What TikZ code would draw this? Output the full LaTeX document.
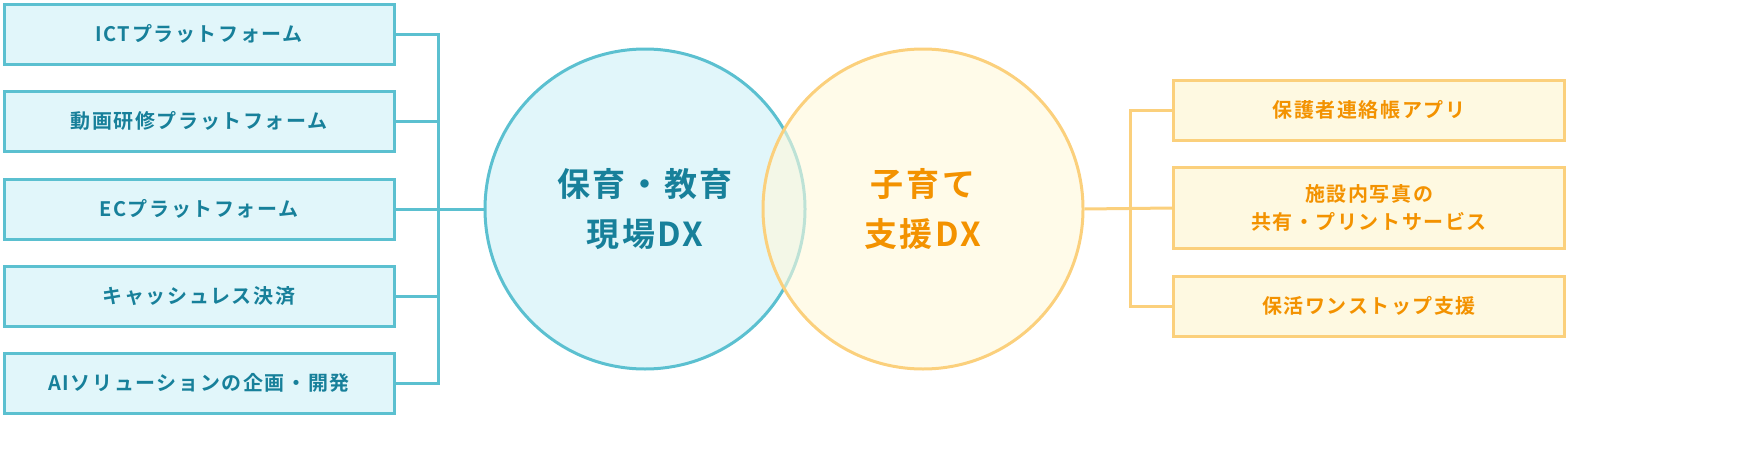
\documentclass[tikz,border=0pt]{standalone}
\usepackage{fontspec}
\setmainfont{Noto Sans CJK JP}[BoldFont={Noto Sans CJK JP Bold},LetterSpace=8]
\definecolor{dxblue}{HTML}{5BC0D0}
\definecolor{dxbluefill}{HTML}{E1F6FA}
\definecolor{dxbluetext}{HTML}{17809A}
\definecolor{kyellow}{HTML}{FBD07C}
\definecolor{kyellowfill}{HTML}{FEF9E1}
\definecolor{korange}{HTML}{F39200}
\tikzset{
  lbox/.style={draw=dxblue,fill=dxbluefill,line width=1.5pt,minimum width=195pt,minimum height=30pt,
    text=dxbluetext,font=\fontsize{10}{12.5}\selectfont\bfseries,align=center},
  rbox/.style={draw=kyellow,fill=kyellowfill,line width=1.5pt,minimum width=195.5pt,minimum height=30pt,
    text=korange,font=\fontsize{10}{14}\selectfont\bfseries,align=center},
  bline/.style={dxblue,line width=1.5pt},
  yline/.style={kyellow,line width=1.5pt}
}
\begin{document}
\begin{tikzpicture}[x=0.5pt,y=-0.5pt]
\useasboundingbox (0,0) rectangle (1760,466);

%circles
\node[circle,draw=dxblue,fill=dxbluefill,line width=1.5pt,minimum size=160pt] (edu) at (645,209) {};
\node[circle,draw=kyellow,fill=kyellow!60!yellow!20,fill opacity=0.6,line width=1.5pt,minimum size=160pt] (kids) at (923,209) {};
\node[text=dxbluetext,font=\fontsize{16.5}{25}\selectfont\bfseries,align=center] at (645,209) {保育・教育\\現場DX};
\node[text=korange,font=\fontsize{16.5}{25}\selectfont\bfseries,align=center] at (923,209) {子育て\\支援DX};

%left boxes
\node[lbox] (l1) at (199,34) {ICTプラットフォーム};
\node[lbox] (l2) at (199,121) {動画研修プラットフォーム};
\node[lbox] (l3) at (199,209) {ECプラットフォーム};
\node[lbox] (l4) at (199,296) {キャッシュレス決済};
\node[lbox] (l5) at (199,383) {AIソリューションの企画・開発};
\coordinate (lb) at (438,209);
\draw[bline] (l1.east) -| (lb) |- (l5.east);
\foreach \n in {l2,l3,l4} \draw[bline] (\n.east) -- (\n.east -| lb);
\draw[bline] (lb) -- (edu.west);

%right boxes
\node[rbox] (r1) at (1369,110) {保護者連絡帳アプリ};
\node[rbox,minimum height=40.5pt] (r2) at (1369,208) {施設内写真の\\共有・プリントサービス};
\node[rbox] (r3) at (1369,306) {保活ワンストップ支援};
\coordinate (rb) at (1130,208);
\draw[yline] (r1.west) -| (rb) |- (r3.west);
\draw[yline] (kids.east) -- (r2.west);
\end{tikzpicture}
\end{document}
